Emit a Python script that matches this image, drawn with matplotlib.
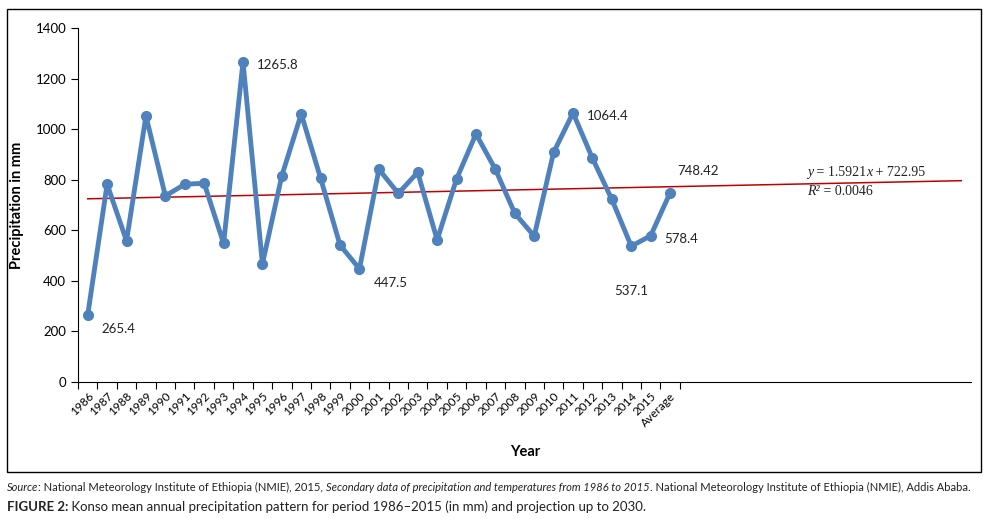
import matplotlib.pyplot as plt
from matplotlib.patches import Rectangle

years = [str(y) for y in range(1986, 2016)] + ['Average']
precip = [265.4, 782, 558, 1052, 736, 782, 786, 548, 1265.8, 467,
          816, 1060, 805, 541, 447.5, 841, 746, 829, 562, 803,
          981, 841, 667, 577, 908, 1064.4, 885, 722, 537.1, 578.4,
          748.42]
n_slots = 46  # 1986-2030 projection + Average slot
slope = 1.5921
intercept = 722.95
r2 = 0.0046

# labelled points: index -> (dx, dy) offset in points, ha
labels = {0: (10, -10, 'left'), 8: (10, -2, 'left'), 14: (10, -10, 'left'),
          25: (10, -2, 'left'), 28: (0, -32, 'center'), 29: (10, -2, 'left'),
          30: (5, 16, 'left')}

plt.rcParams['font.family'] = ['Lato', 'DejaVu Sans']

fig = plt.figure(figsize=(9.97, 5.19), dpi=100)
fig.patches.append(Rectangle((7 / 997, 1 - 472 / 519), 974 / 997, 463 / 519,
                             transform=fig.transFigure, fill=False,
                             edgecolor='black', linewidth=1.0))

ax = fig.add_axes([78 / 997, 1 - 382 / 519, 893 / 997, 354 / 519])
x = list(range(len(precip)))
ax.plot(x, precip, color='#4F81BD', linewidth=3.5, marker='o', markersize=7,
        zorder=3)

# linear trend, Excel index starts at 1, forecast to 2030
tx = [0, n_slots - 1]
ty = [slope * (t + 1) + intercept for t in tx]
ax.plot(tx, ty, color='#C00000', linewidth=1.1, zorder=2)

for i, (dx, dy, ha) in labels.items():
    ax.annotate('748.42' if i == 30 else f'{precip[i]:g}', (i, precip[i]),
                xytext=(dx, dy), textcoords='offset points', ha=ha,
                va='center', fontsize=9.5, color='#222222')


def chain(anchor, parts, size, family=None):
    # place text pieces one after another on the same line
    prev = anchor
    for txt, st, wt in parts:
        a = plt.Annotation(txt, xy=(1, 0), xycoords=prev, va='bottom',
                           ha='left', fontsize=size, style=st, weight=wt,
                           family=family, color='#222222',
                           annotation_clip=False)
        if isinstance(anchor.axes, plt.Axes):
            anchor.axes.add_artist(a)
        else:
            fig.add_artist(a)
        prev = a


serif = ['Liberation Serif', 'DejaVu Serif']
eq_x = 37.05
chain(ax.text(eq_x, 801, '', fontsize=10, va='bottom'),
      [('y', 'italic', 'normal'), (f' = {slope}', 'normal', 'normal'),
       ('x', 'italic', 'normal'), (f' + {intercept}', 'normal', 'normal')],
      10, serif)
chain(ax.text(eq_x, 728, '', fontsize=10, va='bottom'),
      [('R²', 'italic', 'normal'), (f' = {r2}', 'normal', 'normal')],
      10, serif)

ax.set_xlim(-0.5, n_slots - 0.5)
ax.set_ylim(0, 1400)
ax.set_yticks(range(0, 1401, 200))
ax.tick_params(axis='y', direction='out', length=5, labelsize=9.5)
ax.set_xticks([t - 0.5 for t in range(len(years) + 1)])
ax.set_xticklabels([])
ax.set_xticks(x, minor=True)
ax.set_xticklabels(years, minor=True, rotation=45, ha='right', va='top',
                   rotation_mode='anchor', fontsize=8.5)
ax.tick_params(axis='x', which='major', direction='out', length=5)
ax.tick_params(axis='x', which='minor', length=0, pad=6)
for s in ['top', 'right']:
    ax.spines[s].set_visible(False)

ax.set_ylabel('Precipitation in mm', fontsize=10.5, fontweight='bold',
              labelpad=8)
fig.text(525 / 997, 1 - 452 / 519, 'Year', fontsize=10.5, fontweight='bold',
         ha='center', va='center')

src = [('Source', 'italic', 'normal'),
       (': National Meteorology Institute of Ethiopia (NMIE), 2015, ',
        'normal', 'normal'),
       ('Secondary data of precipitation and temperatures from 1986 to 2015',
        'italic', 'normal'),
       ('. National Meteorology Institute of Ethiopia (NMIE), Addis Ababa.',
        'normal', 'normal')]
fig_cap = [('FIGURE 2:', 'normal', 'bold'),
           (' Konso mean annual precipitation pattern for period 1986–2015 '
            '(in mm) and projection up to 2030.', 'normal', 'normal')]
chain(fig.text(7 / 997, 1 - 493 / 519, '', fontsize=8, va='bottom'),
      src, 8)
chain(fig.text(7 / 997, 1 - 513 / 519, '', fontsize=9.5, va='bottom'),
      fig_cap, 9.5)

fig.savefig('out.png', dpi=100)
